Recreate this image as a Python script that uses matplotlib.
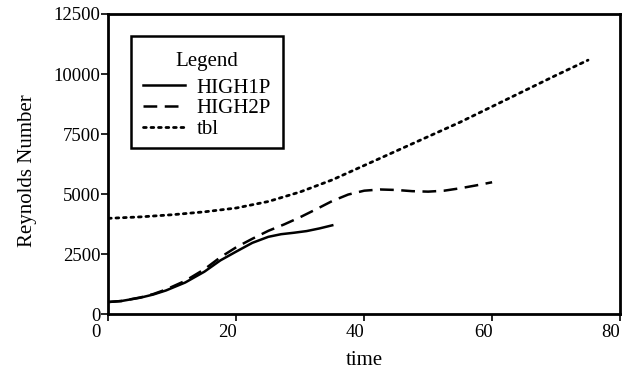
import matplotlib
matplotlib.use("Agg")
import matplotlib.pyplot as plt
from matplotlib.transforms import ScaledTranslation
from matplotlib.offsetbox import DrawingArea

# Reynolds number histories for the three runs
t_high1p = [0, 2, 5, 7, 9, 12, 15, 17.5, 20, 22.5, 25, 27, 29, 31, 33, 35]
re_high1p = [520, 560, 700, 830, 1000, 1330, 1780, 2250, 2620, 2980, 3230, 3340, 3400, 3470, 3580, 3710]

t_high2p = [0, 2, 5, 7, 9, 12, 15, 17.5, 20, 22.5, 25, 27.5, 30, 32.5, 35, 37.5, 40, 42.5, 45, 47.5, 50, 52.5, 55, 57.5, 60]
re_high2p = [520, 560, 710, 850, 1040, 1400, 1880, 2380, 2800, 3150, 3480, 3750, 4050, 4380, 4720, 4990, 5150, 5200, 5180, 5130, 5110, 5150, 5250, 5370, 5500]

t_tbl = [0, 5, 10, 15, 20, 25, 30, 35, 40, 45, 50, 55, 60, 65, 70, 75]
re_tbl = [4000, 4060, 4150, 4270, 4430, 4700, 5100, 5600, 6200, 6800, 7400, 8000, 8650, 9300, 9950, 10580]

x_ticks = [0, 20, 40, 60, 80]
y_ticks = [0, 2500, 5000, 7500, 10000, 12500]

plt.rcParams["font.family"] = ["Liberation Serif", "DejaVu Serif"]
plt.rcParams["font.size"] = 13.5

fig = plt.figure(figsize=(6.34, 3.79), dpi=100)
ax = fig.add_axes([0.1711, 0.1702, 0.8068, 0.7929])

ax.plot(t_high1p, re_high1p, color="black", lw=1.8, linestyle="-", label="HIGH1P",
        solid_joinstyle="round")
ax.plot(t_high2p, re_high2p, color="black", lw=1.8, linestyle=(0, (5.5, 3)), label="HIGH2P")
ax.plot(t_tbl, re_tbl, color="black", lw=2.0, linestyle=(0, (1, 1.7)),
        dash_capstyle="round", label="tbl")

ax.set_xlim(0, 80)
ax.set_ylim(0, 12500)
ax.set_xticks(x_ticks)
ax.set_yticks(y_ticks)
ax.tick_params(direction="out", length=5, width=1.2, color="black")
ax.tick_params(axis="y", pad=1)
ax.tick_params(axis="x", pad=2)
for sp in ax.spines.values():
    sp.set_linewidth(2.0)
    sp.set_color("black")

# the x tick labels sit slightly left of their ticks
shifts_px = [-13, -9, -9, -9, -9]
for lbl, dx in zip(ax.get_xticklabels(), shifts_px):
    lbl.set_transform(lbl.get_transform() + ScaledTranslation(dx / 100, 0, fig.dpi_scale_trans))

ax.set_xlabel("time", fontsize=15, labelpad=7)
ax.set_ylabel("Reynolds Number", fontsize=15, labelpad=12)
ax.yaxis.label.set_y(0.48)

leg = ax.legend(loc="upper left", bbox_to_anchor=(0.044, 0.927), title="Legend",
                frameon=True, fancybox=False, edgecolor="black", framealpha=1,
                handlelength=2.0, handletextpad=0.55, borderpad=0.45,
                labelspacing=0.05, fontsize=15, title_fontsize=15, borderaxespad=0)
leg.get_frame().set_linewidth(1.8)
# extra room above the legend title and a wider frame
leg._legend_box.sep = 5
spacer = DrawingArea(96, 0)
spacer.set_figure(fig)
leg._legend_box._children.insert(0, spacer)

fig.savefig("out.png", dpi=100)
